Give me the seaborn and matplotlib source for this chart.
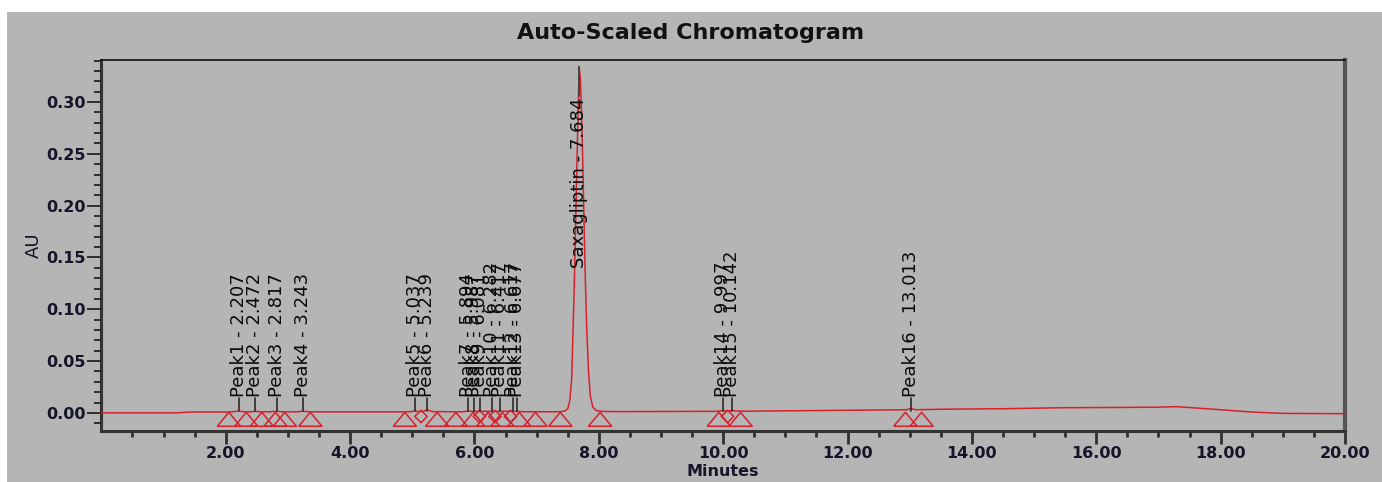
import matplotlib
matplotlib.use("Agg")
import matplotlib.pyplot as plt
import seaborn as sns
import pandas as pd
from matplotlib.patches import Rectangle
from matplotlib.ticker import FixedLocator, MultipleLocator, FormatStrFormatter

# ---------------- data ----------------
time_min = [0.0, 1.20, 1.30, 1.45, 2.00, 2.10, 2.207, 2.30, 2.40, 2.472, 2.55,
            2.70, 2.817, 2.90, 3.15, 3.243, 3.35, 4.50, 4.95, 5.037, 5.12,
            5.18, 5.239, 5.32, 5.80, 5.894, 6.00, 6.10, 6.30, 6.60, 6.80,
            7.30, 7.40, 7.46, 7.50, 7.534, 7.564, 7.584, 7.604, 7.624, 7.644,
            7.664, 7.684, 7.704, 7.724, 7.744, 7.764, 7.784, 7.804, 7.834,
            7.864, 7.904, 7.96, 8.05, 8.30,
            9.90, 9.997, 10.07, 10.142, 10.30, 12.00, 12.95, 13.013, 13.10,
            13.50, 14.50, 15.50, 16.30, 17.00, 17.30, 18.00, 18.50, 19.00, 20.00]
absorbance = [0.0000, 0.0000, 0.0004, 0.0008, 0.0008, 0.0010, 0.0018, 0.0010, 0.0010, 0.0016, 0.0010,
              0.0010, 0.0015, 0.0010, 0.0010, 0.0016, 0.0010, 0.0010, 0.0010, 0.0018, 0.0012,
              0.0015, 0.0030, 0.0012, 0.0010, 0.0016, 0.0014, 0.0015, 0.0014, 0.0016, 0.0011,
              0.0010, 0.0012, 0.0020, 0.0040, 0.0120, 0.0340, 0.0770, 0.1200, 0.1740, 0.2310,
              0.2840, 0.3340, 0.3210, 0.2860, 0.2350, 0.1790, 0.1260, 0.0830, 0.0400,
              0.0160, 0.0055, 0.0022, 0.0014, 0.0012,
              0.0015, 0.0022, 0.0017, 0.0022, 0.0016, 0.0025, 0.0030, 0.0042, 0.0030,
              0.0035, 0.0040, 0.0050, 0.0052, 0.0055, 0.0060, 0.0030, 0.0008, -0.0005, -0.0008]

peak_names = ["Peak1", "Peak2", "Peak3", "Peak4", "Peak5", "Peak6", "Peak7",
              "Peak8", "Peak9", "Peak10", "Peak11", "Peak12", "Peak13",
              "Peak14", "Peak15", "Peak16"]
peak_rt = [2.207, 2.472, 2.817, 3.243, 5.037, 5.239, 5.894,
           5.987, 6.081, 6.282, 6.417, 6.617, 6.677,
           9.997, 10.142, 13.013]
main_name = "Saxagliptin"
main_rt = 7.684
main_height = 0.334

# peak start / end markers and valley markers
bound_times = [2.05, 2.33, 2.58, 2.80, 2.95, 3.36, 4.88, 5.40, 5.70, 5.98,
               6.22, 6.45, 6.72, 6.98, 7.38, 8.02, 9.93, 10.28, 12.93, 13.19]
valley_times = [5.14, 6.08, 6.33, 6.58, 10.07]

x_major = [2, 4, 6, 8, 10, 12, 14, 16, 18, 20]
x_minor = [0.5, 1.0, 1.5, 2.5, 3.0, 3.5, 4.5, 5.0, 5.5, 6.5, 7.0, 7.5, 8.5, 9.0, 9.5,
           10.5, 11.0, 11.5, 12.5, 13.0, 13.5, 14.5, 15.0, 15.5, 16.5, 17.0, 17.5,
           18.5, 19.0, 19.5]

# ---------------- styling ----------------
sns.set_style("ticks")
plt.rcParams["font.family"] = ["DejaVu Sans"]

BG = "#b5b5b5"
RED = "#d8202a"
TXT = "#15152a"

fig = plt.figure(figsize=(13.82, 4.82), dpi=100, facecolor="white")
bgrect = Rectangle((7 / 1382, 0), 1 - 7 / 1382, 1 - 12 / 482,
                   transform=fig.transFigure, facecolor=BG,
                   edgecolor="none", zorder=-10)
fig.patches.append(bgrect)
fig.text(696 / 1382, 1 + 3 / 482, "(a)", ha="center", va="baseline",
         fontsize=15, color="#222222")
fig.text(0.5, 1 - 33 / 482, "Auto-Scaled Chromatogram", ha="center", va="center",
         fontsize=16, fontweight="bold", color="#111111")

ax = fig.add_axes([101.4 / 1382, 51 / 482, (1345 - 101.4) / 1382, (431 - 60) / 482])
ax.set_zorder(1)
ax.set_facecolor(BG)

df = pd.DataFrame({"Minutes": time_min, "AU": absorbance})
sns.lineplot(data=df, x="Minutes", y="AU", ax=ax, color=RED, linewidth=1.1,
             zorder=3, sort=False)

tri = [(-1, -0.6), (1, -0.6), (0, 0.6), (-1, -0.6)]
dfb = pd.DataFrame({"t": bound_times, "y": [-0.0062] * len(bound_times)})
sns.scatterplot(data=dfb, x="t", y="y", ax=ax, marker=tri, s=280,
                facecolor="none", edgecolor=RED, linewidth=1.1, zorder=4)
dfv = pd.DataFrame({"t": valley_times, "y": [-0.0035] * len(valley_times)})
sns.scatterplot(data=dfv, x="t", y="y", ax=ax, marker="D", s=40,
                facecolor="none", edgecolor=RED, linewidth=1.1, zorder=4)

# peak labels
for name, rt in zip(peak_names, peak_rt):
    ax.plot([rt, rt], [0.0015, 0.014], color="#202020", lw=1.1, zorder=5)
    ax.text(rt, 0.0155, f"{name} - {rt:.3f}", rotation=90, ha="center",
            va="bottom", fontsize=13, color="#0a0a0a", zorder=6)
ax.plot([main_rt, main_rt], [main_height, 0.306], color="#444444", lw=1.4, zorder=5)
ax.text(main_rt, 0.304, f"{main_name} - {main_rt:.3f}", rotation=90, ha="center",
        va="top", fontsize=13, color="#0a0a0a", zorder=6)

ax.set_xlim(0, 20)
ax.set_ylim(-0.0175, 0.3405)
ax.xaxis.set_major_locator(FixedLocator(x_major))
ax.xaxis.set_minor_locator(FixedLocator(x_minor))
ax.yaxis.set_major_locator(MultipleLocator(0.05))
ax.yaxis.set_minor_locator(MultipleLocator(0.01))
ax.xaxis.set_major_formatter(FormatStrFormatter("%.2f"))
ax.yaxis.set_major_formatter(FormatStrFormatter("%.2f"))

ax.tick_params(axis="x", which="major", direction="out", length=9, width=2,
               color="#303030", labelsize=11.5, labelcolor=TXT, pad=2)
ax.tick_params(axis="x", which="minor", direction="out", length=4, width=2,
               color="#303030")
ax.tick_params(axis="y", which="major", direction="out", length=10, width=1.4,
               color="#303030", labelsize=11.5, labelcolor=TXT, pad=1)
ax.tick_params(axis="y", which="minor", direction="out", length=5, width=1.4,
               color="#303030")
for lab in ax.get_xticklabels() + ax.get_yticklabels():
    lab.set_fontweight("bold")

for side, (lw, col) in {"left": (2.2, "#333333"), "bottom": (2.2, "#333333"),
                        "top": (1.2, "#111111"), "right": (3.0, "#555555")}.items():
    ax.spines[side].set_visible(True)
    ax.spines[side].set_linewidth(lw)
    ax.spines[side].set_color(col)

ax.set_xlabel("Minutes", fontsize=11.5, fontweight="bold", color=TXT, labelpad=2)
ax.set_ylabel("AU", fontsize=13, color=TXT, labelpad=3)

fig.savefig("out.png", dpi=100, facecolor=fig.get_facecolor())
